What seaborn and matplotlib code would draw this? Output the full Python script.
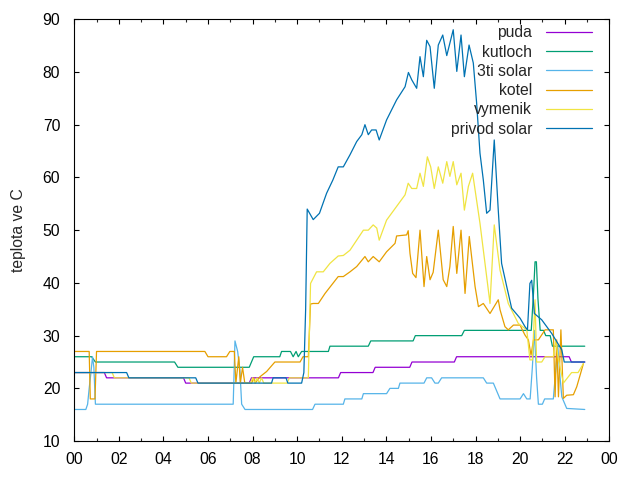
import matplotlib
matplotlib.use("Agg")
import matplotlib.pyplot as plt
import seaborn as sns
import pandas as pd
from matplotlib.ticker import MultipleLocator

# (hour of day, temperature)
puda = [(0, 23), (1.35, 23), (1.45, 22), (4.9, 22), (5.0, 21), (7.85, 21), (7.95, 22),
        (11.85, 22), (11.95, 23), (13.4, 23), (13.5, 24), (15.05, 24), (15.15, 25),
        (17.05, 25), (17.15, 26), (22.2, 26), (22.3, 25), (22.9, 25)]

kutloch = [(0, 26), (0.78, 26), (0.95, 25), (4.5, 25), (4.65, 24), (7.85, 24), (8.05, 26),
           (9.22, 26), (9.3, 27), (9.7, 27), (9.82, 26), (9.95, 27), (10.05, 26), (10.2, 27),
           (11.4, 27), (11.47, 28), (13.19, 28), (13.3, 29), (15.2, 29), (15.3, 30),
           (17.38, 30), (17.5, 31), (20.5, 31), (20.6, 38), (20.67, 44), (20.73, 44),
           (20.8, 37), (20.9, 31), (21.05, 31), (21.15, 30), (21.35, 30), (21.45, 28),
           (22.9, 28)]

solar_3ti = [(0, 16), (0.52, 16), (0.6, 17), (0.67, 20), (0.75, 23), (0.82, 26), (0.88, 24),
             (0.95, 17), (7.13, 17), (7.21, 29), (7.33, 27), (7.43, 23.5), (7.51, 17),
             (7.66, 16), (10.69, 16), (10.8, 17), (12.07, 17), (12.14, 18), (12.9, 18),
             (12.97, 19), (14.01, 19), (14.16, 20), (14.54, 20), (14.61, 21), (15.69, 21),
             (15.81, 22), (16.03, 22), (16.18, 21), (16.33, 21), (16.48, 22), (18.35, 22),
             (18.5, 21), (18.8, 21), (19.1, 18), (20.0, 18), (20.15, 19), (20.3, 18),
             (20.45, 18), (20.55, 24), (20.64, 31), (20.74, 22), (20.82, 17), (21.0, 17),
             (21.1, 18), (21.49, 18), (21.6, 23.5), (21.69, 28), (21.79, 22.2), (21.87, 18.4),
             (22.09, 16.2), (22.9, 16)]

kotel = [(0, 27), (0.67, 27), (0.72, 18), (0.93, 18), (1.0, 27), (5.86, 27), (6.0, 26),
         (6.83, 26), (6.98, 27), (7.18, 27), (7.25, 21), (7.38, 26), (7.45, 21), (7.55, 24),
         (7.65, 21), (7.96, 21), (8.05, 22), (8.12, 21), (8.33, 22.2), (8.63, 23.2), (9.0, 25),
         (10.13, 25), (10.26, 26), (10.5, 26), (10.6, 36), (10.72, 36.1), (10.95, 36.1),
         (11.25, 38), (11.84, 41.2), (12.07, 41.2), (12.37, 42.1), (12.67, 43.1), (13.04, 45),
         (13.19, 44), (13.41, 45), (13.68, 44), (14.01, 45.9), (14.39, 47.5), (14.46, 48.9),
         (14.91, 49.1), (14.98, 49.9), (15.06, 45.6), (15.18, 41.8), (15.33, 41), (15.51, 50),
         (15.69, 39.3), (15.81, 45), (15.96, 40.6), (16.1, 42), (16.33, 50), (16.55, 40.6),
         (16.71, 39.3), (16.85, 43.1), (17.0, 50.7), (17.16, 41.8), (17.35, 50), (17.53, 38),
         (17.72, 48.8), (17.98, 39.3), (18.13, 35.5), (18.35, 36.1), (18.65, 34.2),
         (19.02, 36.8), (19.1, 34.9), (19.32, 31.7), (19.47, 31.1), (19.7, 32), (20.0, 32),
         (20.1, 31.1), (20.22, 30.1), (20.37, 29.2), (20.49, 26.3), (20.6, 29.2),
         (20.82, 29.2), (21.12, 31.1), (21.49, 31.1), (21.57, 18.4), (21.64, 29.2),
         (21.72, 18.4), (21.83, 31.1), (21.94, 18.1), (22.09, 18.7), (22.39, 18.8),
         (22.54, 20.3), (22.84, 24.7)]

vymenik = [(0, 23), (1.7, 23), (1.8, 22), (5.15, 22), (5.25, 21), (7.9, 21), (8.0, 22),
           (8.1, 21), (8.2, 22), (8.3, 21), (8.4, 22), (8.5, 21), (9.55, 21), (9.65, 22),
           (10.5, 22), (10.6, 39.9), (10.87, 42.1), (11.17, 42.1), (11.47, 43.7), (11.84, 45.1),
           (12.07, 45.2), (12.37, 46.2), (12.67, 48.1), (12.97, 50), (13.19, 50), (13.41, 51),
           (13.57, 50.4), (13.68, 48.1), (14.01, 51.9), (14.46, 54.5), (14.84, 56.7),
           (14.98, 58.9), (15.14, 57.9), (15.36, 57.9), (15.51, 60.8), (15.66, 58.3),
           (15.84, 63.9), (15.99, 62), (16.15, 57.9), (16.33, 62), (16.53, 58.9), (16.71, 63),
           (16.85, 60.2), (17.0, 63), (17.16, 58.6), (17.35, 60.8), (17.5, 53.8), (17.68, 58.3),
           (17.87, 60.8), (18.2, 51.3), (18.65, 36.1), (18.84, 51), (19.1, 42.4), (19.47, 36.1),
           (19.92, 32.3), (20.3, 31.1), (20.44, 25.4), (20.55, 25.4), (20.67, 36.8),
           (20.74, 25), (20.97, 25), (21.12, 26), (21.49, 26), (21.6, 29), (21.7, 26),
           (21.94, 21), (22.31, 23), (22.6, 23), (22.84, 24.7)]

privod_solar = [(0, 23), (2.35, 23), (2.45, 22), (5.45, 22), (5.55, 21), (8.85, 21),
                (8.92, 22), (9.5, 22), (9.58, 21), (10.2, 21), (10.3, 23), (10.38, 35),
                (10.45, 54), (10.72, 52), (11.0, 53.2), (11.32, 57), (11.6, 59.5), (11.84, 62),
                (12.07, 62), (12.37, 64.3), (12.67, 66.8), (12.9, 68.1), (13.04, 70),
                (13.19, 68.1), (13.34, 69), (13.54, 69), (13.68, 67.1), (14.01, 70.9),
                (14.46, 74.7), (14.84, 77.2), (14.99, 79.9), (15.14, 78.5), (15.36, 76.9),
                (15.51, 82.9), (15.66, 79.1), (15.81, 86), (15.96, 84.8), (16.15, 76.9),
                (16.33, 85.1), (16.53, 87), (16.71, 83.1), (17.0, 88), (17.16, 80.1),
                (17.35, 87), (17.5, 79.1), (17.71, 85.1), (17.9, 81.7), (18.05, 74.1),
                (18.2, 64.6), (18.35, 59.5), (18.5, 53.2), (18.65, 53.8), (18.84, 67.1),
                (19.02, 53.8), (19.17, 43.7), (19.4, 39.3), (19.62, 35.2), (20.0, 33.3),
                (20.22, 31.7), (20.33, 31.1), (20.44, 39.9), (20.52, 40.5), (20.64, 34.2),
                (20.97, 33.0), (21.42, 30.4), (21.87, 27.3), (21.98, 25), (22.9, 25)]

series_names = ['puda', 'kutloch', '3ti solar', 'kotel', 'vymenik', 'privod solar']
series_data = [puda, kutloch, solar_3ti, kotel, vymenik, privod_solar]
colors = ['#9400D3', '#009E73', '#56B4E9', '#E69F00', '#F0E442', '#0072B2']
hour_labels = ['00', '02', '04', '06', '08', '10', '12', '14', '16', '18', '20', '22', '00']

FS = 11.3

sns.set_style("ticks")
plt.rcParams['font.family'] = ['Liberation Sans', 'DejaVu Sans']
plt.rcParams['font.size'] = FS
plt.rcParams['xtick.direction'] = 'in'
plt.rcParams['ytick.direction'] = 'in'
plt.rcParams['xtick.top'] = True
plt.rcParams['ytick.right'] = True

fig, ax = plt.subplots(figsize=(6.4, 4.8), dpi=100)
fig.subplots_adjust(left=0.116, right=0.952, bottom=0.081, top=0.960)

for name, data, col in zip(series_names, series_data, colors):
    df = pd.DataFrame(data, columns=['hour', 'temp'])
    sns.lineplot(data=df, x='hour', y='temp', color=col, lw=0.9, label=name,
                 estimator=None, ax=ax)

ax.set_xlim(0, 24)
ax.set_ylim(10, 90)
ax.set_xticks(range(0, 25, 2))
ax.set_xticklabels(hour_labels)
ax.xaxis.set_minor_locator(MultipleLocator(1))
ax.set_yticks(range(10, 91, 10))
ax.tick_params(axis='both', which='major', length=3.5, width=0.8, colors='black',
               labelsize=FS)
ax.tick_params(axis='x', which='minor', length=2, width=0.8, top=True)
ax.tick_params(axis='x', which='major', pad=8)
ax.tick_params(axis='y', which='major', pad=10)
ax.set_xlabel('')
ax.set_ylabel('teplota ve C', fontsize=FS, labelpad=12)
for sp in ax.spines.values():
    sp.set_visible(True)
    sp.set_linewidth(0.8)
    sp.set_color('black')

ax.legend(loc='upper right', bbox_to_anchor=(0.979, 1.0), frameon=False,
          markerfirst=False, handlelength=2.9, handletextpad=0.9,
          labelspacing=0.27, borderaxespad=0, fontsize=FS)

fig.savefig('out.png', dpi=100)
